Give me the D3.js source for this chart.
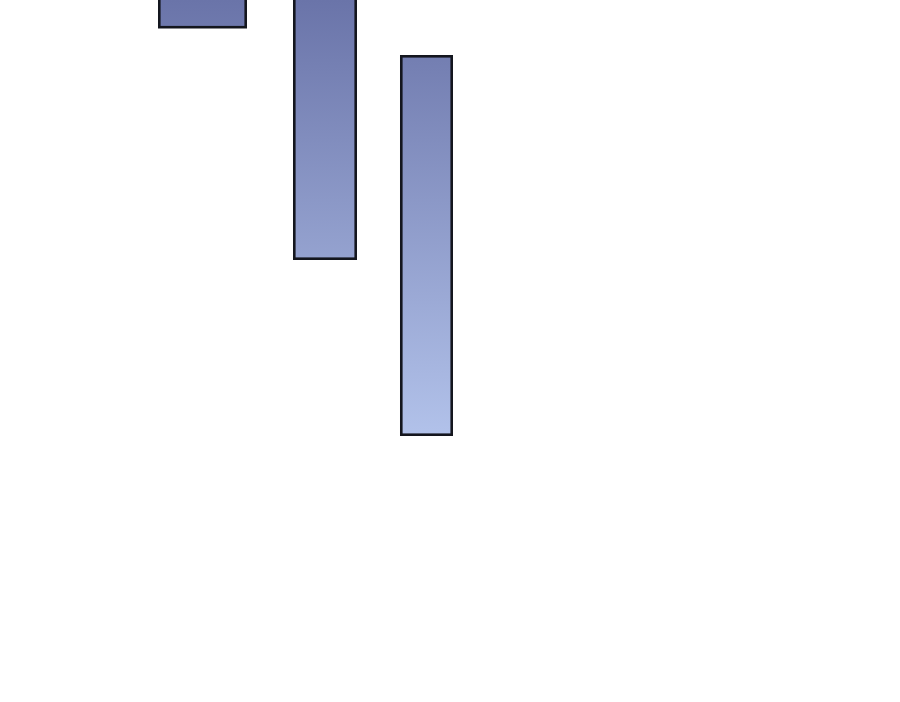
<!DOCTYPE html>
<html>
<head>
<meta charset="utf-8">
<script src="https://cdn.jsdelivr.net/npm/d3@7"></script>
<style>
  html, body { margin: 0; padding: 0; background: #fff; }
  svg { display: block; }
</style>
</head>
<body>
<svg id="chart" width="900" height="702"></svg>
<script>
// floating bars: horizontal extent and vertical extent per bar
const categories = ["A", "B", "C"];
const xStart = [15.8, 29.3, 40.0];
const xEnd = [24.7, 35.7, 45.3];
const yTop = [-1, -1, 5.5];
const yBottom = [2.85, 26.0, 43.6];

const width = 900, height = 702;
const strokeW = 2.6;

const svg = d3.select("#chart");

const x = d3.scaleLinear()
    .domain([0, 90])
    .range([0, width]);

const y = d3.scaleLinear()
    .domain([0, 70.2])
    .range([0, height]);

const defs = svg.append("defs");
const grad = defs.append("linearGradient")
    .attr("id", "barFill")
    .attr("gradientUnits", "userSpaceOnUse")
    .attr("x1", 0).attr("y1", 0)
    .attr("x2", 0).attr("y2", y(43.6));
grad.append("stop").attr("offset", "0%").attr("stop-color", "#6a74a9");
grad.append("stop").attr("offset", "100%").attr("stop-color", "#b2c2ea");

const bars = categories.map((c, i) => ({
    name: c,
    x0: xStart[i],
    x1: xEnd[i],
    y0: yTop[i],
    y1: yBottom[i]
}));

// inset by half the stroke so the outer edge sits on the scaled value
const inset = strokeW / 2;

svg.append("g")
    .attr("class", "bars")
    .selectAll("rect")
    .data(bars)
    .join("rect")
    .attr("x", d => x(d.x0) + inset)
    .attr("y", d => y(d.y0) + inset)
    .attr("width", d => x(d.x1) - x(d.x0) - strokeW)
    .attr("height", d => y(d.y1) - y(d.y0) - strokeW)
    .attr("fill", "url(#barFill)")
    .attr("stroke", "#14161e")
    .attr("stroke-width", strokeW);
</script>
</body>
</html>
